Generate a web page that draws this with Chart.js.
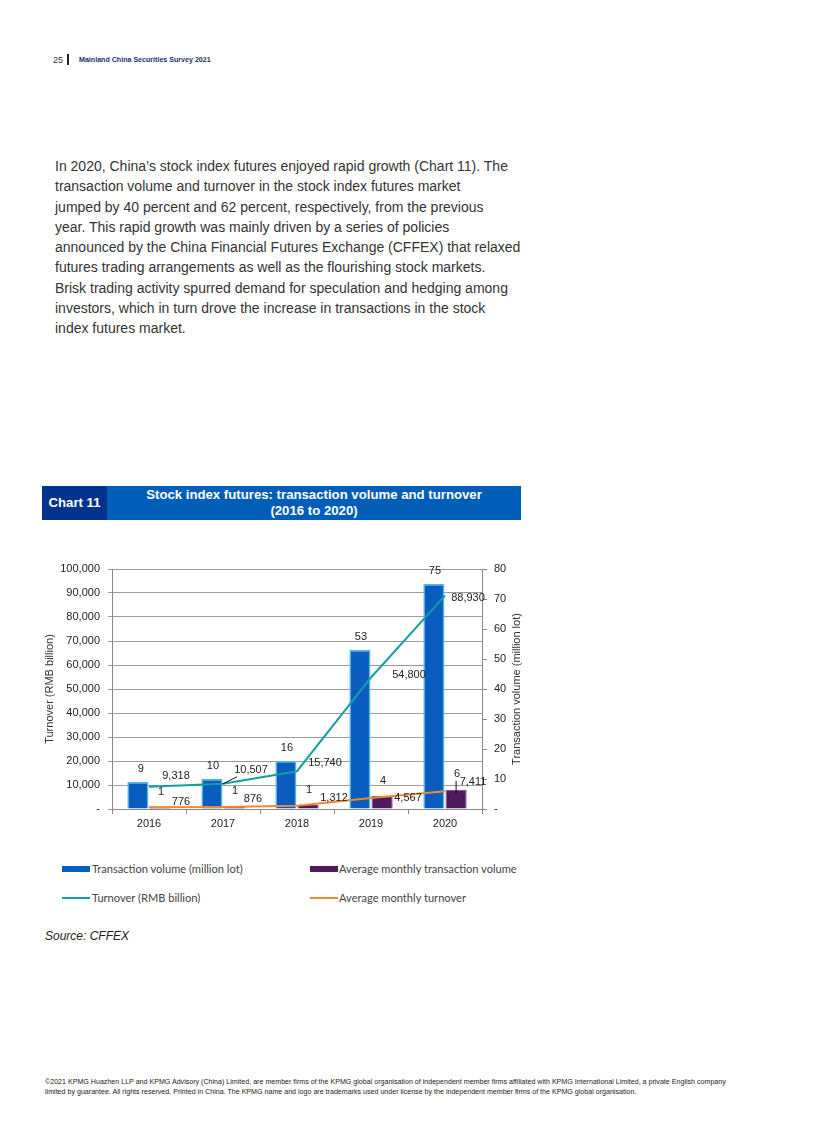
<!DOCTYPE html>
<html>
<head>
<meta charset="utf-8">
<script src="https://cdn.jsdelivr.net/npm/chart.js@4.4.1/dist/chart.umd.min.js"></script>
<style>
  body { margin: 0; background: #fff; font-family: "Liberation Sans", Arial, sans-serif; }
  .page { position: relative; width: 816px; height: 1145px; overflow: hidden; }
  .abs { position: absolute; white-space: nowrap; }
  .pgnum { left: 53px; top: 55px; font-size: 9px; color: #333; }
  .pgbar { left: 67px; top: 54px; width: 1.5px; height: 11px; background: #222; }
  .pgtitle { left: 79px; top: 56px; font-size: 7.1px; font-weight: bold; color: #1e2f6a; }
  .para { left: 55px; top: 156px; font-size: 14px; line-height: 20.3px; color: #333; }
  .tag { left: 42px; top: 486px; width: 65px; height: 34px; background: #00338d; color: #fff;
         font-weight: bold; font-size: 13.2px; line-height: 34px; text-align: center; }
  .ttl { left: 107px; top: 486px; width: 414px; height: 34px; background: #005eb8; color: #fff;
         font-weight: bold; font-size: 13.2px; line-height: 16px; text-align: center; padding-top: 1px; box-sizing: border-box; }
  .lg { font-family: Lato, "Open Sans", sans-serif; font-size: 11.1px; color: #444; }
  .sw { position: absolute; }
  .src { left: 45px; top: 929px; font-size: 12px; font-style: italic; color: #222; }
  .foot { left: 45px; top: 1077px; font-size: 7.1px; line-height: 10px; color: #222; }
  #chart { position: absolute; left: 40px; top: 550px; }
</style>
</head>
<body>
<div class="page">
  <div class="abs pgnum">25</div>
  <div class="abs pgbar"></div>
  <div class="abs pgtitle">Mainland China Securities Survey 2021</div>

  <div class="abs para">In 2020, China’s stock index futures enjoyed rapid growth (Chart 11). The<br>
transaction volume and turnover in the stock index futures market<br>
jumped by 40 percent and 62 percent, respectively, from the previous<br>
year. This rapid growth was mainly driven by a series of policies<br>
announced by the China Financial Futures Exchange (CFFEX) that relaxed<br>
futures trading arrangements as well as the flourishing stock markets.<br>
Brisk trading activity spurred demand for speculation and hedging among<br>
investors, which in turn drove the increase in transactions in the stock<br>
index futures market.</div>

  <div class="abs tag">Chart 11</div>
  <div class="abs ttl">Stock index futures: transaction volume and turnover<br>(2016 to 2020)</div>

  <canvas id="chart" width="490" height="290" style="width:490px;height:290px"></canvas>

  <div class="sw" style="left:62px;top:866px;width:28px;height:6px;background:#0a5cbe;"></div>
  <div class="abs lg" style="left:92px;top:862px;">Transaction volume (million lot)</div>
  <div class="sw" style="left:310px;top:866px;width:28px;height:6px;background:#4f1b5e;"></div>
  <div class="abs lg" style="left:339px;top:862px;">Average monthly transaction volume</div>
  <div class="sw" style="left:62px;top:897px;width:28px;height:2px;background:#14a0a0;"></div>
  <div class="abs lg" style="left:92px;top:891px;">Turnover (RMB billion)</div>
  <div class="sw" style="left:310px;top:897px;width:28px;height:2px;background:#f08a30;"></div>
  <div class="abs lg" style="left:339px;top:891px;">Average monthly turnover</div>

  <div class="abs src">Source: CFFEX</div>

  <div class="abs foot">©2021 KPMG Huazhen LLP and KPMG Advisory (China) Limited, are member firms of the KPMG global organisation of independent member firms affiliated with KPMG International Limited, a private English company<br>
limited by guarantee. All rights reserved. Printed in China. The KPMG name and logo are trademarks used under license by the independent member firms of the KPMG global organisation.</div>
</div>

<script>
const years = ['2016', '2017', '2018', '2019', '2020'];
const transactionVolume = [9, 10, 16, 53, 75];          // million lot
const avgMonthlyVolume = [0.8, 0.9, 1.3, 4.4, 6.4];     // million lot
const turnover = [9318, 10507, 15740, 54800, 88930];    // RMB billion
const avgMonthlyTurnover = [776, 876, 1312, 4567, 7411]; // RMB billion

const leftTicks = { min: 0, max: 100000, step: 10000 };
const rightTicks = { min: 0, max: 80, step: 10 };

Chart.defaults.font.family = '"Liberation Sans", Arial, sans-serif';
Chart.defaults.font.size = 11;
Chart.defaults.color = '#222';

// label placement relative to each bar top / line point
const labelOffsets = {
  vol: [[3, -13], [1, -13], [1, -13], [1, -13], [1, -13]],
  avgVol: [[1, -15], [1, -15], [1, -15], [1, -15], [1, -16]],
  turn: [[27, -11], [28, -14], [28, -8], [38, -3], [23, 2]],
  avgTurn: [[32, -5], [30, -8], [37, -8], [37, 0], [28, -9]]
};

const valueLabels = {
  id: 'valueLabels',
  afterDatasetsDraw(chart) {
    const ctx = chart.ctx;
    ctx.save();
    ctx.font = '11px "Liberation Sans", Arial, sans-serif';
    ctx.fillStyle = '#222';
    ctx.textAlign = 'center';
    ctx.textBaseline = 'middle';
    chart.data.datasets.forEach((ds, i) => {
      const offs = labelOffsets[ds.key];
      chart.getDatasetMeta(i).data.forEach((el, j) => {
        const v = ds.data[j];
        const txt = ds.type === 'bar' ? String(Math.round(v)) : v.toLocaleString('en-US');
        ctx.fillText(txt, el.x + offs[j][0], el.y + offs[j][1]);
      });
    });
    // small leader lines
    ctx.strokeStyle = '#111';
    ctx.lineWidth = 1;
    const t = chart.getDatasetMeta(2).data[1];
    ctx.beginPath(); ctx.moveTo(t.x, t.y); ctx.lineTo(t.x + 14, t.y - 7); ctx.stroke();
    const p = chart.getDatasetMeta(1).data[4];
    ctx.beginPath(); ctx.moveTo(p.x, p.y - 9); ctx.lineTo(p.x, p.y + 4); ctx.stroke();

    // right axis title, reading bottom to top like the left one
    const area = chart.chartArea;
    ctx.translate(477, (area.top + area.bottom) / 2);
    ctx.rotate(-Math.PI / 2);
    ctx.fillStyle = '#333';
    ctx.fillText('Transaction volume (million lot)', 0, 0);
    ctx.restore();
  }
};

new Chart(document.getElementById('chart'), {
  data: {
    labels: years,
    datasets: [
      {
        type: 'bar', key: 'vol', label: 'Transaction volume (million lot)',
        data: transactionVolume, yAxisID: 'y1', order: 2,
        backgroundColor: '#0a5cbe', borderColor: '#4db8f0', borderWidth: 1.5,
        categoryPercentage: 0.6, barPercentage: 0.95
      },
      {
        type: 'bar', key: 'avgVol', label: 'Average monthly transaction volume',
        data: avgMonthlyVolume, yAxisID: 'y1', order: 2,
        backgroundColor: '#4f1b5e', borderColor: '#7e3494', borderWidth: 1,
        categoryPercentage: 0.6, barPercentage: 0.95
      },
      {
        type: 'line', key: 'turn', label: 'Turnover (RMB billion)',
        data: turnover, yAxisID: 'y', order: 1,
        borderColor: '#14a0a0', borderWidth: 2, pointRadius: 0, tension: 0
      },
      {
        type: 'line', key: 'avgTurn', label: 'Average monthly turnover',
        data: avgMonthlyTurnover, yAxisID: 'y', order: 0,
        borderColor: '#f08a30', borderWidth: 2, pointRadius: 0, tension: 0
      }
    ]
  },
  options: {
    responsive: false,
    animation: false,
    layout: { padding: { top: 19, left: 0, right: 0, bottom: 0 } },
    plugins: { legend: { display: false }, tooltip: { enabled: false } },
    scales: {
      x: {
        offset: true,
        grid: { offset: true, drawOnChartArea: false, tickLength: 5, color: '#888' },
        border: { color: '#888' },
        ticks: { padding: 3, color: '#222' },
        afterFit(s) { s.height = 31; }
      },
      y: {
        position: 'left',
        min: leftTicks.min, max: leftTicks.max,
        ticks: {
          stepSize: leftTicks.step, padding: 8, color: '#222',
          callback: v => v === 0 ? '-' : v.toLocaleString('en-US')
        },
        grid: { color: '#9a9a9a', tickLength: 4 },
        border: { color: '#888' },
        title: { display: true, text: 'Turnover (RMB billion)', color: '#333', padding: { top: 3, bottom: 0 } },
        afterFit(s) { s.width = 72; }
      },
      y1: {
        position: 'right',
        min: rightTicks.min, max: rightTicks.max,
        ticks: {
          stepSize: rightTicks.step, padding: 7, color: '#222',
          callback: v => v === 0 ? '-' : v
        },
        grid: { drawOnChartArea: false, color: '#888', tickLength: 5 },
        border: { color: '#888' },
        afterFit(s) { s.width = 48; }
      }
    }
  },
  plugins: [valueLabels]
});
</script>
</body>
</html>
